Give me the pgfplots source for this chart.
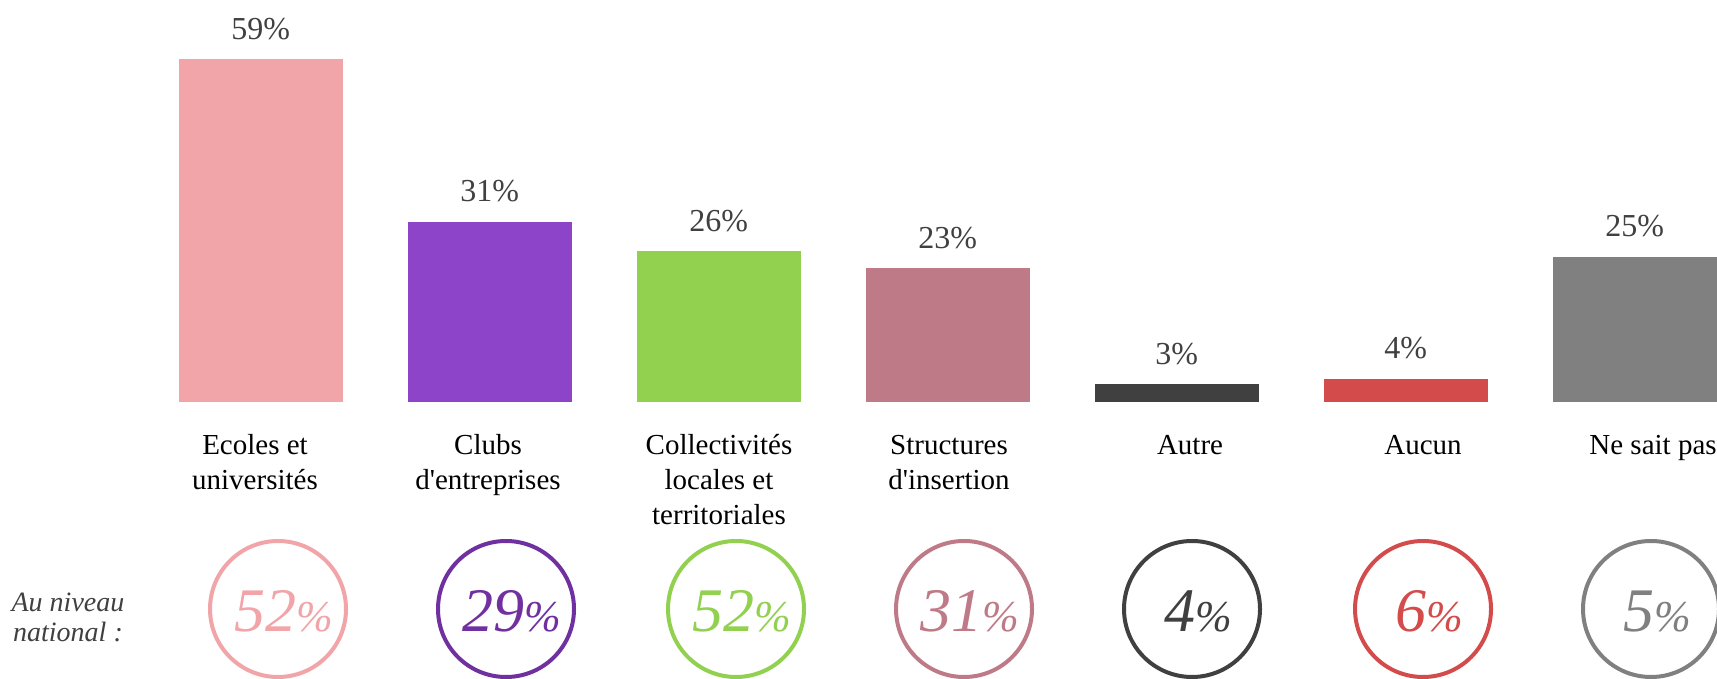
\documentclass[border=0pt]{standalone}
\usepackage{fontspec}
\setmainfont{Liberation Serif}[Ligatures=TeXOff]
\usepackage{pgfplots}
\pgfplotsset{compat=1.18}
\definecolor{c1}{HTML}{F2A5A8}
\definecolor{c2}{HTML}{8E44C8}
\definecolor{c2d}{HTML}{7030A0}
\definecolor{c3}{HTML}{92D050}
\definecolor{c4}{HTML}{BF7A88}
\definecolor{c5}{HTML}{404040}
\definecolor{c6}{HTML}{D34B4B}
\definecolor{c7}{HTML}{808080}
\definecolor{txtgray}{HTML}{404040}
\begin{document}
\begin{tikzpicture}
\fill[white] (0,0) rectangle (858.5pt,339.5pt);
\begin{axis}[
  at={(0,0)}, anchor=south west,
  scale only axis, width=858.5pt, height=339.5pt,
  hide axis, clip=false,
  xmin=-1.138, xmax=6.360, ymin=-47.69, ymax=69.17,
  ybar, bar width=82pt, bar shift=0pt,
  /pgf/number format/assume math mode=true,
  nodes near coords={\pgfmathprintnumber{\pgfplotspointmeta}\%},
  every node near coord/.append style={anchor=base, yshift=9.9pt, inner sep=0pt,
     font=\fontsize{16}{19}\selectfont, text=txtgray},
]
\addplot[fill=c1, draw=none] coordinates {(0,59)};
\addplot[fill=c2, draw=none] coordinates {(1,31)};
\addplot[fill=c3, draw=none] coordinates {(2,26)};
\addplot[fill=c4, draw=none] coordinates {(3,23)};
\addplot[fill=c5, draw=none] coordinates {(4,3)};
\addplot[fill=c6, draw=none] coordinates {(5,4)};
\addplot[fill=c7, draw=none] coordinates {(6,25)};
\end{axis}
\begin{scope}[x=0.5pt, y=-0.5pt, shift={(0,339.5pt)}]
  \tikzset{cat/.style={anchor=base, inner sep=0pt, font=\fontsize{14.5}{17}\selectfont}}
  \node[cat] at (255,455) {Ecoles et};
  \node[cat] at (255,490) {universités};
  \node[cat] at (488,455) {Clubs};
  \node[cat] at (488,490) {d'entreprises};
  \node[cat] at (719,455) {Collectivités};
  \node[cat] at (719,490) {locales et};
  \node[cat] at (719,525) {territoriales};
  \node[cat] at (949,455) {Structures};
  \node[cat] at (949,490) {d'insertion};
  \node[cat] at (1190,455) {Autre};
  \node[cat] at (1423,455) {Aucun};
  \node[cat, anchor=base west] at (1589,455) {Ne sait pas};
  \tikzset{nat/.style={anchor=base, inner sep=0pt, font=\fontsize{14}{17}\selectfont\itshape, text=txtgray}}
  \node[nat] at (68,612) {Au niveau};
  \node[nat] at (68,642) {national :};
  \foreach \cx/\col/\tcol/\v in {278/c1/c1/52, 506/c2d/c2d/29, 736/c3/c3/52, 964/c4/c4/31, 1192/c5/c5/4, 1423/c6/c6/6, 1651/c7/c7/5}{
    \draw[\col, line width=2pt] (\cx,609) circle[radius=68];
    \node[anchor=base, inner sep=0pt, text=\tcol, font=\itshape] at (\cx+6,632)
      {\fontsize{31}{31}\selectfont\itshape \v\fontsize{22}{22}\selectfont\%};
  }
\end{scope}
\pgfresetboundingbox
\useasboundingbox (0,0) rectangle (858.5pt,339.5pt);
\end{tikzpicture}
\end{document}
